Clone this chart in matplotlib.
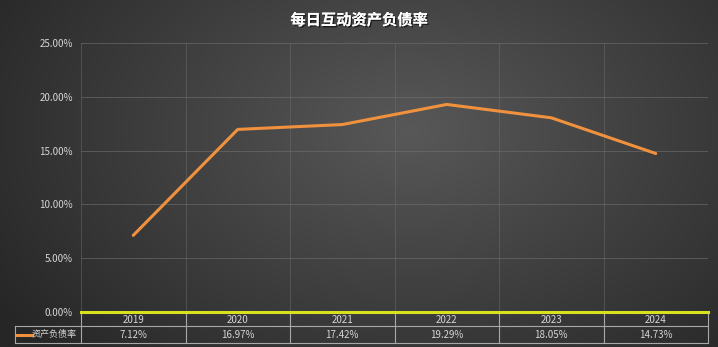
import numpy as np
import matplotlib
matplotlib.use("Agg")
import matplotlib.pyplot as plt
import matplotlib.patheffects as pe
from matplotlib.transforms import blended_transform_factory

plt.rcParams['font.family'] = ['Noto Sans CJK SC', 'DejaVu Sans']

title = "每日互动资产负债率"
series_name = "资产负债率"
years = ["2019", "2020", "2021", "2022", "2023", "2024"]
values = [7.12, 16.97, 17.42, 19.29, 18.05, 14.73]
yticks = [0, 5, 10, 15, 20, 25]

W, H = 718, 347
fig = plt.figure(figsize=(W / 100, H / 100), dpi=100)

# background radial gradient
bg = fig.add_axes([0, 0, 1, 1])
yy, xx = np.mgrid[0:H, 0:W]
d = np.sqrt(((xx - 410) / 480.0) ** 2 + ((yy - 130) / 320.0) ** 2)
v = np.clip(0.345 - 0.19 * d, 0.15, 0.345)
bg.imshow(np.dstack([v, v, v]), extent=[0, 1, 0, 1], aspect='auto', origin='upper')
bg.axis('off')

x0, x1, ytop, ybot = 81, 708, 43, 312
ax = fig.add_axes([x0 / W, 1 - ybot / H, (x1 - x0) / W, (ybot - ytop) / H])
ax.set_facecolor('none')
ax.set_xlim(0, len(years))
ax.set_ylim(0, 25)
for s in ax.spines.values():
    s.set_visible(False)

gridc = '#707070'
for yv in yticks[1:]:
    ax.axhline(yv, color=gridc, lw=0.6, alpha=0.7, zorder=1)
for i in range(len(years) + 1):
    ax.axvline(i, color=gridc, lw=0.6, alpha=0.55, zorder=1)

xs = np.arange(len(years)) + 0.5
ax.plot(xs, values, color='#f0913e', lw=2.2, solid_capstyle='round', zorder=3)
ax.axhline(0, color='#d6e21e', lw=2.2, zorder=6, clip_on=False)

ax.set_xticks([])
ax.set_yticks(yticks)
ax.set_yticklabels([f"{t:.2f}%" for t in yticks], color='#d6d6d6', fontsize=7)
ax.tick_params(axis='y', length=0, pad=6)

# table
ph = ybot - ytop
r1 = -14 / ph
r2 = -31 / ph
lc = '#a8a8a8'
tr = blended_transform_factory(ax.transData, ax.transAxes)
lx = -66 / (x1 - x0)
ax.plot([lx, 1], [r1, r1], transform=ax.transAxes, color=lc, lw=0.8, clip_on=False)
ax.plot([lx, 1], [r2, r2], transform=ax.transAxes, color=lc, lw=0.8, clip_on=False)
ax.plot([lx, lx], [r1, r2], transform=ax.transAxes, color=lc, lw=0.8, clip_on=False)
for i in range(len(years) + 1):
    ax.plot([i, i], [0, r2], transform=tr, color=lc, lw=0.8, clip_on=False)
for i, (yr, val) in enumerate(zip(years, values)):
    ax.text(i + 0.5, r1 / 2 - 1 / ph, yr, transform=tr, ha='center', va='center',
            color='#d6d6d6', fontsize=7)
    ax.text(i + 0.5, (r1 + r2) / 2, f"{val:.2f}%", transform=tr, ha='center',
            va='center', color='#d6d6d6', fontsize=7)
# legend cell
ax.plot([lx + 2 / (x1 - x0), lx + 17 / (x1 - x0)], [(r1 + r2) / 2] * 2,
        transform=ax.transAxes, color='#f0913e', lw=2.2, clip_on=False)
ax.text(lx + 17 / (x1 - x0), (r1 + r2) / 2, series_name, transform=ax.transAxes,
        ha='left', va='center', color='#d6d6d6', fontsize=6.5)

fig.text(0.5, 1 - 20 / H, title, ha='center', va='center', color='white',
         fontsize=11, fontweight='bold',
         path_effects=[pe.withSimplePatchShadow(offset=(1, -1), shadow_rgbFace='black', alpha=0.6), pe.Normal()])

fig.savefig('out.png', dpi=100)
